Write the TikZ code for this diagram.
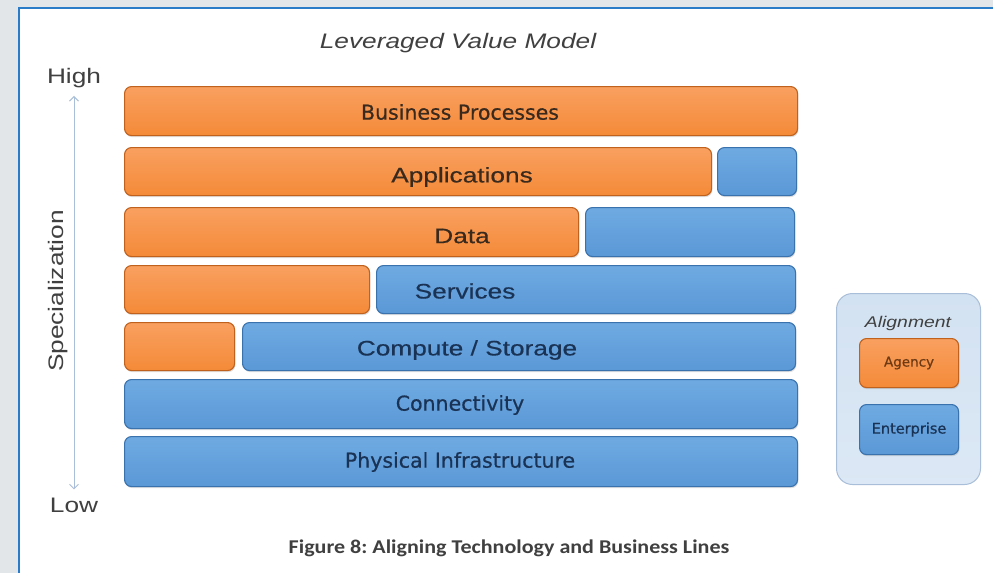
\documentclass[tikz,border=0pt]{standalone}
\usepackage{fontspec}
\setmainfont{Liberation Sans}
\newfontfamily\dvfont[FakeBold=0.6]{DejaVu Sans}
\newfontfamily\arfont[FakeBold=0.4]{Liberation Sans}
\newfontfamily\cbfont{Carlito}
\usetikzlibrary{arrows.meta,shadows}
\definecolor{orgT}{HTML}{F9A060}
\definecolor{orgB}{HTML}{F48A38}
\definecolor{orgD}{HTML}{C0611E}
\definecolor{bluT}{HTML}{6FAAE2}
\definecolor{bluB}{HTML}{5A98D6}
\definecolor{bluD}{HTML}{3A72AE}
\definecolor{txtO}{HTML}{3A2A1E}
\definecolor{txtB}{HTML}{1A3355}
\definecolor{txtAg}{HTML}{6E3A14}
\definecolor{frameblue}{HTML}{2A7BC8}
\definecolor{pagegray}{HTML}{E2E6E9}
\definecolor{axis}{HTML}{A9BED8}
\definecolor{capgray}{HTML}{404040}
\definecolor{leg}{HTML}{D3E2F2}
\newcommand{\wide}[1]{\scalebox{1.25}[1]{#1}}
\newcommand{\bx}[7]{\node[#1, minimum width={(#5-#3)*1pt}, minimum height={(#6-#4)*1pt}, anchor=north west] (#2) at (#3,#4) {#7};}
\tikzset{
  base/.style={rectangle, rounded corners=7pt, inner sep=0pt, line width=1.1pt,
    drop shadow={opacity=0.25, shadow xshift=0.8pt, shadow yshift=-1.6pt}},
  orgbox/.style={base, draw=orgD, top color=orgT, bottom color=orgB},
  blubox/.style={base, draw=bluD, top color=bluT, bottom color=bluB},
  arlab/.style={font=\arfont\fontsize{21}{24}\selectfont, inner sep=0pt},
  plainlab/.style={font=\fontsize{21}{24}\selectfont, inner sep=0pt},
  dvlab/.style={font=\dvfont\fontsize{20.5}{24}\selectfont, inner sep=0pt},
}
\begin{document}
\begin{tikzpicture}[x=1pt,y=-1pt]
\useasboundingbox (0,0) rectangle (993,573);
% page background
\fill[pagegray] (0,0) rectangle (993,573);
\fill[white] (19,8) rectangle (993,573);
\draw[frameblue, line width=2pt] (19,573) -- (19,8) -- (993,8);

% title
\node[plainlab, text=capgray, font=\itshape\fontsize{21}{24}\selectfont] (title) at (458,43) {\wide{Leveraged Value Model}};

% axis
\node[plainlab, text=capgray] (high) at (74,78) {\wide{High}};
\node[plainlab, text=capgray] (low) at (74,505) {\wide{Low}};
\draw[axis, line width=1pt, {Straight Barb[length=4.5pt,width=9pt]}-{Straight Barb[length=4.5pt,width=9pt]}]
  ([yshift=-8pt]high.south) -- ([yshift=8pt]low.north);
\node[plainlab, text=capgray, rotate=90] (spec) at (58,291) {\wide{Specialization}};

% rows
\bx{orgbox}{bp}{124}{86}{797}{135}{}
\bx{orgbox}{appO}{124}{147}{711}{195}{}
\bx{blubox}{appB}{717}{147}{796}{195}{}
\bx{orgbox}{dataO}{124}{207}{578}{256}{}
\bx{blubox}{dataB}{585}{207}{794}{256}{}
\bx{orgbox}{svcO}{124}{265}{369}{313}{}
\bx{blubox}{svcB}{376}{265}{795}{313}{}
\bx{orgbox}{cmpO}{124}{322}{234}{370}{}
\bx{blubox}{cmpB}{242}{322}{795}{370}{}
\bx{blubox}{conn}{124}{379}{797}{428}{}
\bx{blubox}{phys}{124}{436}{797}{486}{}

% row labels
\node[dvlab, text=txtO] (tbp) at (460,112) {Business Processes};
\node[arlab, text=txtO] (tapp) at (462,177) {\wide{Applications}};
\node[arlab, text=txtO] (tdata) at (462,236) {\wide{Data}};
\node[arlab, text=txtB] (tsvc) at (465,291) {\wide{Services}};
\node[arlab, text=txtB] (tcmp) at (467,350) {\wide{Compute / Storage}};
\node[dvlab, text=txtB] (tconn) at (460,405) {Connectivity};
\node[dvlab, text=txtB] (tphys) at (460,462) {Physical Infrastructure};

% legend
\node[rectangle, rounded corners=16pt, draw=axis, line width=1pt, top color=leg, bottom color=leg!80!white,
  minimum width=144pt, minimum height=191pt, anchor=north west] (legend) at (836,293) {};
\node[inner sep=0pt, text=capgray, font=\itshape\fontsize{15.5}{18}\selectfont] (align) at (908,323) {\wide{Alignment}};
\bx{orgbox}{agency}{859}{338}{958}{387}{\dvfont\fontsize{13.5}{16}\selectfont\color{txtAg}Agency}
\bx{blubox}{ent}{859}{404}{958}{454}{\dvfont\fontsize{14.5}{16}\selectfont\color{txtB}Enterprise}

% caption
\node[inner sep=0pt, text=capgray, font=\cbfont\bfseries\fontsize{19.5}{22}\selectfont] (cap) at (509,548) {\scalebox{1.13}[1]{Figure 8:\ Aligning Technology and Business Lines}};
\end{tikzpicture}
\end{document}
